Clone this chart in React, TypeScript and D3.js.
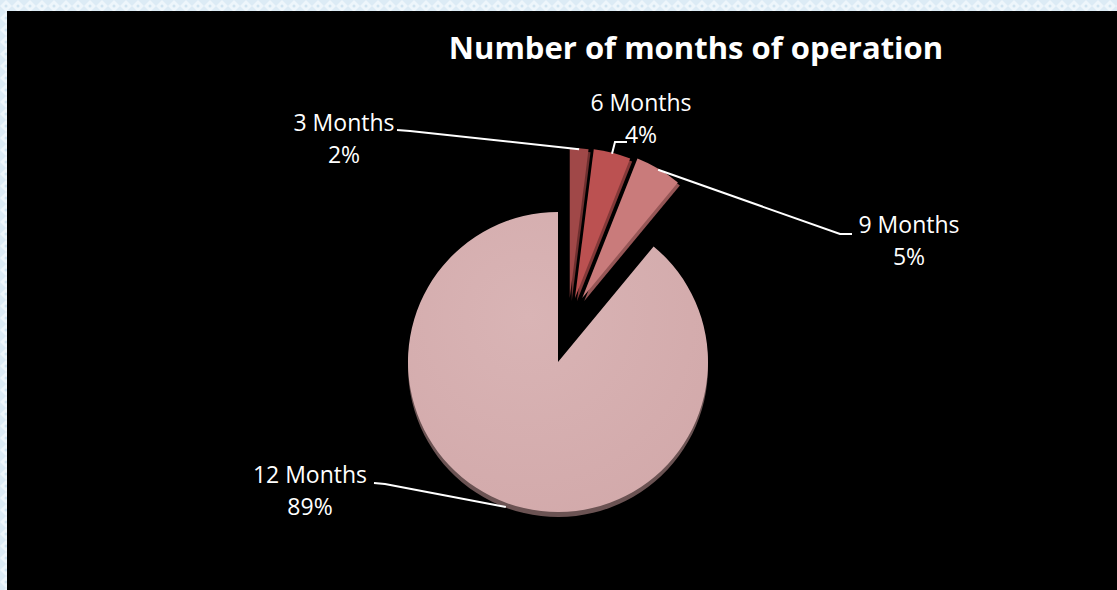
import React from "react";
import * as d3 from "d3";

const categories = ["3 Months", "6 Months", "9 Months", "12 Months"];
const values = [2, 4, 5, 89];
const percentLabels = ["2%", "4%", "5%", "89%"];
const sliceColors = ["#a04848", "#bb5151", "#c97b7b", "#d6afb0"];
const sideColors = ["#6e2f2f", "#833838", "#965656", "#6b5353"];
const title = "Number of months of operation";

const W = 1117;
const H = 590;
const CX = 558;
const CY = 362;
const R = 150;

// label layout: [centerX, firstBaseline]
const labelPos: [number, number][] = [
  [344, 131],
  [641, 111],
  [909, 233],
  [310, 483],
];
// leader line starting anchors (label side), elbow
const leaderStart: [number, number][][] = [
  [[397, 130], [410, 131]],
  [[627, 142], [615, 142]],
  [[852, 234], [840, 234]],
  [[374, 483], [385, 484]],
];

export default function App() {
  const pie = d3
    .pie<number>()
    .sort(null)
    .value((d) => d)
    .startAngle(0)
    .endAngle(2 * Math.PI);
  const arcs = pie(values);
  const arcGen = d3.arc<d3.PieArcDatum<number>>().innerRadius(0).outerRadius(R);

  const offsets = arcs.map((a) => {
    const mid = (a.startAngle + a.endAngle) / 2;
    if (a.value > 50) return [0, 0];
    return [10 + 28 * Math.sin(mid), -64];
  });

  const anchor = (i: number, extra: number) => {
    const a = arcs[i];
    const mid = (a.startAngle + a.endAngle) / 2;
    const [ox, oy] = offsets[i];
    return [
      CX + ox + (R + extra) * Math.sin(mid),
      CY + oy - (R + extra) * Math.cos(mid),
    ];
  };

  const font = "'Open Sans', 'Liberation Sans', sans-serif";

  return (
    <svg
      width={W}
      height={H}
      style={{ position: "absolute", left: 0, top: 0, display: "block" }}
    >
      <defs>
        <pattern id="bg" width="12" height="12" patternUnits="userSpaceOnUse">
          <rect width="12" height="12" fill="#dcebf5" />
          <path d="M6 0 L12 6 L6 12 L0 6 Z" fill="#eef6fb" />
          <circle cx="6" cy="6" r="1.5" fill="#d0e4f1" />
        </pattern>
        <radialGradient id="bigGrad" cx="40%" cy="35%" r="75%">
          <stop offset="0%" stopColor="#d9b4b5" />
          <stop offset="100%" stopColor="#d2a9aa" />
        </radialGradient>
      </defs>
      <rect width={W} height={H} fill="url(#bg)" />
      <rect x={7} y={11} width={W - 7} height={H - 11} fill="#000" />

      <text
        x={696}
        y={59}
        textAnchor="middle"
        fill="#fff"
        fontFamily={font}
        fontWeight={700}
        fontSize={31}
      >
        {title}
      </text>

      {/* side / shadow layers */}
      {arcs.map((a, i) => (
        <path
          key={"s" + i}
          d={arcGen(a) || ""}
          transform={`translate(${CX + offsets[i][0] + (i === 3 ? 0 : 2)},${
            CY + offsets[i][1] + (i === 3 ? 5 : 3)
          })`}
          fill={sideColors[i]}
        />
      ))}
      {arcs.map((a, i) => (
        <path
          key={"p" + i}
          d={arcGen(a) || ""}
          transform={`translate(${CX + offsets[i][0]},${CY + offsets[i][1]})`}
          fill={i === 3 ? "url(#bigGrad)" : sliceColors[i]}
        />
      ))}

      {/* leader lines */}
      {arcs.map((a, i) => {
        const end = anchor(i, i === 3 ? 4 : -1);
        const pts = [...leaderStart[i], end];
        return (
          <polyline
            key={"l" + i}
            points={pts.map((p) => p.join(",")).join(" ")}
            fill="none"
            stroke="#fff"
            strokeWidth={2}
          />
        );
      })}

      {categories.map((c, i) => (
        <g key={"t" + i} fill="#fff" fontFamily={font} fontSize={23}>
          <text x={labelPos[i][0]} y={labelPos[i][1]} textAnchor="middle">
            {c}
          </text>
          <text x={labelPos[i][0]} y={labelPos[i][1] + 32} textAnchor="middle">
            {percentLabels[i]}
          </text>
        </g>
      ))}
    </svg>
  );
}
